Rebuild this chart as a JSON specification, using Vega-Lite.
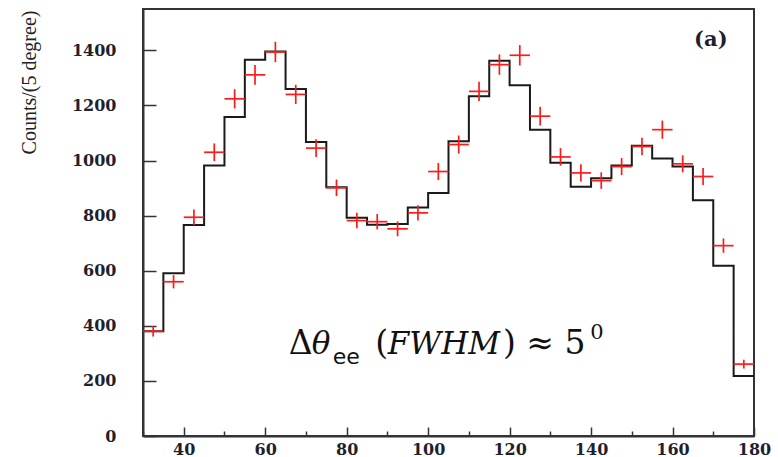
{
  "$schema": "https://vega.github.io/schema/vega-lite/v6.json",
  "width": 611,
  "height": 427,
  "autosize": "none",
  "padding": {"left": 143, "top": 9, "right": 24, "bottom": 21},
  "background": "white",
  "config": {
    "view": {"stroke": "#333333", "strokeWidth": 2},
    "axis": {"grid": false, "domainColor": "#333333", "domainWidth": 2, "tickColor": "#333333", "tickWidth": 1.5, "labelFont": "DejaVu Serif", "labelFontWeight": "bold", "labelFontSize": 16, "labelColor": "#1f1f2e"}
  },
  "datasets": {
    "hist": [
      {"edge": 30, "count": 380}, {"edge": 35, "count": 591}, {"edge": 40, "count": 766},
      {"edge": 45, "count": 982}, {"edge": 50, "count": 1158}, {"edge": 55, "count": 1366},
      {"edge": 60, "count": 1396}, {"edge": 65, "count": 1260}, {"edge": 70, "count": 1067},
      {"edge": 75, "count": 903}, {"edge": 80, "count": 792}, {"edge": 85, "count": 767},
      {"edge": 90, "count": 770}, {"edge": 95, "count": 829}, {"edge": 100, "count": 882},
      {"edge": 105, "count": 1070}, {"edge": 110, "count": 1233}, {"edge": 115, "count": 1362},
      {"edge": 120, "count": 1273}, {"edge": 125, "count": 1112}, {"edge": 130, "count": 992},
      {"edge": 135, "count": 905}, {"edge": 140, "count": 936}, {"edge": 145, "count": 982},
      {"edge": 150, "count": 1054}, {"edge": 155, "count": 1007}, {"edge": 160, "count": 978},
      {"edge": 165, "count": 856}, {"edge": 170, "count": 618}, {"edge": 175, "count": 218},
      {"edge": 180, "count": 218}
    ],
    "pts": [
      {"lo": 30, "mid": 32.5, "hi": 35, "n": 380, "nlo": 361, "nhi": 399},
      {"lo": 35, "mid": 37.5, "hi": 40, "n": 560, "nlo": 536, "nhi": 584},
      {"lo": 40, "mid": 42.5, "hi": 45, "n": 794, "nlo": 766, "nhi": 822},
      {"lo": 45, "mid": 47.5, "hi": 50, "n": 1030, "nlo": 998, "nhi": 1062},
      {"lo": 50, "mid": 52.5, "hi": 55, "n": 1224, "nlo": 1189, "nhi": 1259},
      {"lo": 55, "mid": 57.5, "hi": 60, "n": 1311, "nlo": 1275, "nhi": 1347},
      {"lo": 60, "mid": 62.5, "hi": 65, "n": 1394, "nlo": 1357, "nhi": 1431},
      {"lo": 65, "mid": 67.5, "hi": 70, "n": 1240, "nlo": 1205, "nhi": 1275},
      {"lo": 70, "mid": 72.5, "hi": 75, "n": 1045, "nlo": 1013, "nhi": 1077},
      {"lo": 75, "mid": 77.5, "hi": 80, "n": 901, "nlo": 871, "nhi": 931},
      {"lo": 80, "mid": 82.5, "hi": 85, "n": 782, "nlo": 754, "nhi": 810},
      {"lo": 85, "mid": 87.5, "hi": 90, "n": 778, "nlo": 750, "nhi": 806},
      {"lo": 90, "mid": 92.5, "hi": 95, "n": 752, "nlo": 725, "nhi": 779},
      {"lo": 95, "mid": 97.5, "hi": 100, "n": 810, "nlo": 782, "nhi": 838},
      {"lo": 100, "mid": 102.5, "hi": 105, "n": 960, "nlo": 929, "nhi": 991},
      {"lo": 105, "mid": 107.5, "hi": 110, "n": 1058, "nlo": 1025, "nhi": 1091},
      {"lo": 110, "mid": 112.5, "hi": 115, "n": 1251, "nlo": 1216, "nhi": 1286},
      {"lo": 115, "mid": 117.5, "hi": 120, "n": 1348, "nlo": 1311, "nhi": 1385},
      {"lo": 120, "mid": 122.5, "hi": 125, "n": 1382, "nlo": 1345, "nhi": 1419},
      {"lo": 125, "mid": 127.5, "hi": 130, "n": 1161, "nlo": 1127, "nhi": 1195},
      {"lo": 130, "mid": 132.5, "hi": 135, "n": 1013, "nlo": 981, "nhi": 1045},
      {"lo": 135, "mid": 137.5, "hi": 140, "n": 955, "nlo": 924, "nhi": 986},
      {"lo": 140, "mid": 142.5, "hi": 145, "n": 927, "nlo": 897, "nhi": 957},
      {"lo": 145, "mid": 147.5, "hi": 150, "n": 978, "nlo": 947, "nhi": 1009},
      {"lo": 150, "mid": 152.5, "hi": 155, "n": 1051, "nlo": 1019, "nhi": 1083},
      {"lo": 155, "mid": 157.5, "hi": 160, "n": 1112, "nlo": 1079, "nhi": 1145},
      {"lo": 160, "mid": 162.5, "hi": 165, "n": 988, "nlo": 957, "nhi": 1019},
      {"lo": 165, "mid": 167.5, "hi": 170, "n": 942, "nlo": 911, "nhi": 973},
      {"lo": 170, "mid": 172.5, "hi": 175, "n": 691, "nlo": 665, "nhi": 717},
      {"lo": 175, "mid": 177.5, "hi": 180, "n": 261, "nlo": 245, "nhi": 277}
    ],
    "ann": [
      {"part": "main", "t": "Δ", "x": 65.8, "y": 297},
      {"part": "ital", "t": "θ", "x": 71.4, "y": 297},
      {"part": "sub", "t": "ee", "x": 76.6, "y": 261},
      {"part": "main", "t": "(", "x": 87.0, "y": 297},
      {"part": "ital", "t": "FWHM", "x": 90.1, "y": 297},
      {"part": "main", "t": ")", "x": 118.4, "y": 297},
      {"part": "main", "t": "≈ 5", "x": 124.1, "y": 297},
      {"part": "sup", "t": "0", "x": 139.8, "y": 352},
      {"part": "tag", "t": "(a)", "x": 169.4, "y": 1417}
    ]
  },
  "layer": [
    {
      "data": {"name": "hist"},
      "mark": {"type": "line", "interpolate": "step-after", "color": "#1a1a1a", "strokeWidth": 2},
      "encoding": {
        "x": {
          "field": "edge", "type": "quantitative",
          "scale": {"domain": [30, 180], "nice": false, "zero": false},
          "axis": {
            "title": null,
            "values": [30,35,40,45,50,55,60,65,70,75,80,85,90,95,100,105,110,115,120,125,130,135,140,145,150,155,160,165,170,175,180],
            "labelExpr": "datum.value % 20 === 0 ? datum.label : ''",
            "tickSize": {"condition": {"test": "datum.value % 20 === 0", "value": -9}, "value": -5},
            "labelPadding": 14,
            "labelOverlap": false,
            "labelFlush": false
          }
        },
        "y": {
          "field": "count", "type": "quantitative",
          "scale": {"domain": [0, 1550], "nice": false},
          "axis": {
            "title": "Counts/(5 degree)",
            "titleFont": "Liberation Serif",
            "titleFontWeight": "normal",
            "titleFontSize": 20,
            "titleColor": "#222222",
            "titleX": -114,
            "titleY": 73,
            "titleAlign": "center",
            "titleBaseline": "middle",
            "titleAngle": -90,
            "values": [0,50,100,150,200,250,300,350,400,450,500,550,600,650,700,750,800,850,900,950,1000,1050,1100,1150,1200,1250,1300,1350,1400,1450,1500],
            "labelExpr": "datum.value % 200 === 0 ? datum.label : ''",
            "format": "d",
            "tickSize": {"condition": {"test": "datum.value % 200 === 0", "value": -13}, "value": -7},
            "labelPadding": 40,
            "labelOverlap": false,
            "labelFlush": false
          }
        }
      }
    },
    {
      "data": {"name": "pts"},
      "mark": {"type": "rule", "color": "#ff1a1a", "strokeWidth": 1.7},
      "encoding": {
        "x": {"field": "lo", "type": "quantitative"},
        "x2": {"field": "hi"},
        "y": {"field": "n", "type": "quantitative"}
      }
    },
    {
      "data": {"name": "pts"},
      "mark": {"type": "rule", "color": "#ff1a1a", "strokeWidth": 1.7},
      "encoding": {
        "x": {"field": "mid", "type": "quantitative"},
        "y": {"field": "nlo", "type": "quantitative"},
        "y2": {"field": "nhi"}
      }
    },
    {
      "data": {"name": "ann"},
      "transform": [{"filter": "datum.part === 'main'"}],
      "mark": {"type": "text", "align": "left", "baseline": "alphabetic", "font": "DejaVu Serif", "fontSize": 33, "color": "#111111"},
      "encoding": {
        "x": {"field": "x", "type": "quantitative"},
        "y": {"field": "y", "type": "quantitative"},
        "text": {"field": "t"}
      }
    },
    {
      "data": {"name": "ann"},
      "transform": [{"filter": "datum.part === 'ital'"}],
      "mark": {"type": "text", "align": "left", "baseline": "alphabetic", "font": "DejaVu Serif", "fontStyle": "italic", "fontSize": 31, "color": "#111111"},
      "encoding": {
        "x": {"field": "x", "type": "quantitative"},
        "y": {"field": "y", "type": "quantitative"},
        "text": {"field": "t"}
      }
    },
    {
      "data": {"name": "ann"},
      "transform": [{"filter": "datum.part === 'sub'"}],
      "mark": {"type": "text", "align": "left", "baseline": "alphabetic", "font": "DejaVu Sans", "fontSize": 22, "color": "#111111"},
      "encoding": {
        "x": {"field": "x", "type": "quantitative"},
        "y": {"field": "y", "type": "quantitative"},
        "text": {"field": "t"}
      }
    },
    {
      "data": {"name": "ann"},
      "transform": [{"filter": "datum.part === 'sup'"}],
      "mark": {"type": "text", "align": "left", "baseline": "alphabetic", "font": "DejaVu Serif", "fontSize": 21, "color": "#111111"},
      "encoding": {
        "x": {"field": "x", "type": "quantitative"},
        "y": {"field": "y", "type": "quantitative"},
        "text": {"field": "t"}
      }
    },
    {
      "data": {"name": "ann"},
      "transform": [{"filter": "datum.part === 'tag'"}],
      "mark": {"type": "text", "align": "center", "baseline": "alphabetic", "font": "DejaVu Serif", "fontWeight": "bold", "fontSize": 21, "color": "#1f1f2e"},
      "encoding": {
        "x": {"field": "x", "type": "quantitative"},
        "y": {"field": "y", "type": "quantitative"},
        "text": {"field": "t"}
      }
    }
  ]
}
